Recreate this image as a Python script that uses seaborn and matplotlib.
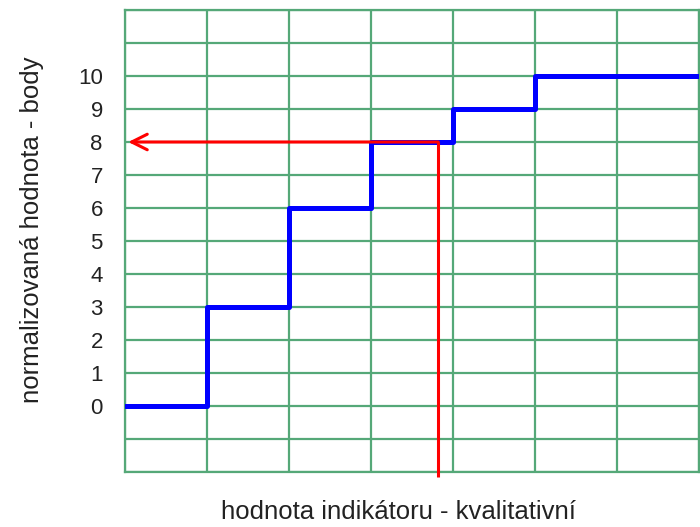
import matplotlib
matplotlib.use("Agg")
import pandas as pd
import seaborn as sns
import matplotlib.pyplot as plt
from matplotlib.ticker import FixedLocator

# step function: indicator value -> points
step_x = [0, 1, 2, 3, 4, 5, 7]
step_y = [0, 3, 6, 8, 9, 10, 10]

# example reading (red arrow)
sel_x = 3.82
sel_y = 8

y_ticks = list(range(-2, 13))
y_labels = [str(v) if 0 <= v <= 10 else "" for v in y_ticks]
x_ticks = list(range(0, 8))

GREEN = "#55a878"

sns.set_style("white")
plt.rcParams["font.family"] = ["Liberation Sans", "DejaVu Sans"]

fig = plt.figure(figsize=(7, 5.27), dpi=100)
ax = fig.add_axes([125 / 700, 1 - 472 / 527, 574 / 700, 462 / 527])

df = pd.DataFrame({"x": step_x, "y": step_y})
sns.lineplot(data=df, x="x", y="y", ax=ax, color="#0000ff", linewidth=3.6,
             drawstyle="steps-post", zorder=3)

# red reading lines
ax.plot([sel_x, sel_x], [sel_y, -2.15], color="#ff0000", linewidth=2.2,
        clip_on=False, zorder=4, solid_capstyle="butt")
ax.annotate("", xy=(0.04, sel_y), xytext=(sel_x, sel_y),
            arrowprops=dict(arrowstyle="->", color="#ff0000", lw=2.2,
                            mutation_scale=28, shrinkA=0, shrinkB=0),
            zorder=4)

ax.set_xlim(0, 7)
ax.set_ylim(-2, 12)
ax.xaxis.set_major_locator(FixedLocator(x_ticks))
ax.yaxis.set_major_locator(FixedLocator(y_ticks))
ax.set_yticklabels(y_labels)
ax.set_xticklabels([])
ax.grid(True, color=GREEN, linewidth=1.6)
ax.tick_params(axis="x", length=0)
ax.tick_params(axis="y", length=7, width=1.6, color=GREEN, labelsize=16,
               labelcolor="#222222", pad=9)
for s in ax.spines.values():
    s.set_color(GREEN)
    s.set_linewidth(1.6)
ax.set_xlabel("")
ax.set_ylabel("")

fig.text(32 / 700, 1 - 230 / 527, "normalizovaná hodnota - body", rotation=90,
         ha="center", va="center", fontsize=18.5, color="#222222")
fig.text(398 / 700, 1 - 512 / 527, "hodnota indikátoru - kvalitativní",
         ha="center", va="center", fontsize=18.5, color="#222222")

fig.savefig("out.png", dpi=100)
